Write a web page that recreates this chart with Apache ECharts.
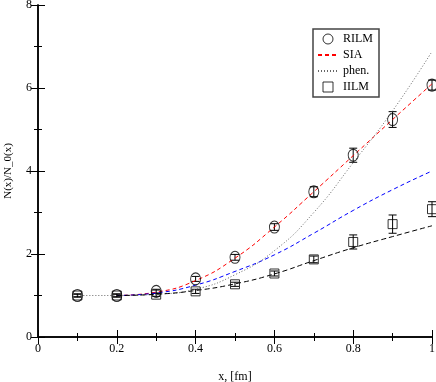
<!DOCTYPE html>
<html>
<head>
<meta charset="utf-8">
<script src="https://cdn.jsdelivr.net/npm/echarts@6/dist/echarts.min.js"></script>
<style>
  html, body { margin: 0; padding: 0; background: #fff; }
  #main { width: 436px; height: 382px; }
</style>
</head>
<body>
<div id="main"></div>
<script>
// points (x in fm)
var xPts = [0.1, 0.2, 0.3, 0.4, 0.5, 0.6, 0.7, 0.8, 0.9, 1.0];
var rilmY = [1.0, 1.0, 1.1, 1.40, 1.92, 2.65, 3.50, 4.38, 5.24, 6.07];
var rilmErr = [0.04, 0.04, 0.05, 0.06, 0.07, 0.08, 0.12, 0.17, 0.19, 0.12];
var iilmY = [1.0, 1.0, 1.02, 1.10, 1.27, 1.53, 1.87, 2.29, 2.72, 3.08];
var iilmErr = [0.03, 0.03, 0.04, 0.05, 0.05, 0.06, 0.08, 0.17, 0.22, 0.18];

// curves
var curveX = [0.2, 0.3, 0.4, 0.5, 0.6, 0.7, 0.8, 0.9, 1.0];
var siaY = [1.0, 1.08, 1.36, 1.90, 2.65, 3.50, 4.37, 5.24, 6.10];
var blueY = [1.0, 1.06, 1.25, 1.58, 1.98, 2.50, 3.05, 3.55, 4.0];
var iilmFitY = [1.0, 1.03, 1.12, 1.28, 1.52, 1.84, 2.15, 2.42, 2.68];
var phenX = [0.1, 0.2, 0.3, 0.4, 0.5, 0.6, 0.7, 0.8, 0.9, 1.0];
var phenY = [1.0, 1.0, 1.03, 1.15, 1.50, 2.08, 3.0, 4.2, 5.45, 6.88];

function pairs(xs, ys) {
  var out = [];
  for (var i = 0; i < xs.length; i++) out.push([xs[i], ys[i]]);
  return out;
}
function errData(xs, ys, es) {
  var out = [];
  for (var i = 0; i < xs.length; i++) out.push([xs[i], ys[i] - es[i], ys[i] + es[i]]);
  return out;
}
function renderErr(params, api) {
  var lo = api.coord([api.value(0), api.value(1)]);
  var hi = api.coord([api.value(0), api.value(2)]);
  var w = 4;
  var st = { stroke: '#000', lineWidth: 1 };
  return {
    type: 'group',
    children: [
      { type: 'line', shape: { x1: lo[0], y1: lo[1], x2: hi[0], y2: hi[1] }, style: st },
      { type: 'line', shape: { x1: lo[0] - w, y1: lo[1], x2: lo[0] + w, y2: lo[1] }, style: st },
      { type: 'line', shape: { x1: hi[0] - w, y1: hi[1], x2: hi[0] + w, y2: hi[1] }, style: st }
    ]
  };
}

var font = 'Liberation Serif';
var axisLineStyle = { color: '#000', width: 1.5 };
var noSym = { color: 'rgba(0,0,0,0)', borderWidth: 0 };
var hollow = { color: 'rgba(0,0,0,0)', borderColor: '#000', borderWidth: 1 };

var option = {
  animation: false,
  backgroundColor: '#fff',
  textStyle: { fontFamily: font },
  grid: { left: 38, right: 4, top: 5, bottom: 45, outerBoundsMode: 'none' },
  legend: {
    data: [
      { name: 'RILM', icon: 'circle', itemStyle: hollow },
      { name: 'SIA', itemStyle: noSym },
      { name: 'phen.', itemStyle: noSym },
      { name: 'IILM', icon: 'path://M0,0L10,0L10,10L0,10Z', itemStyle: hollow }
    ],
    orient: 'vertical',
    left: 313, top: 29,
    itemWidth: 20, itemHeight: 10, itemGap: 4,
    padding: [4, 6, 4, 4],
    borderColor: '#444', borderWidth: 1.5,
    textStyle: { fontFamily: font, fontSize: 12, color: '#000' }
  },
  xAxis: [{
    type: 'value', min: 0, max: 1, interval: 0.2,
    name: 'x, [fm]', nameLocation: 'middle', nameGap: 34,
    nameTextStyle: { fontFamily: font, fontSize: 12, color: '#000' },
    axisLine: { lineStyle: axisLineStyle },
    axisTick: { inside: true, length: 7, lineStyle: { color: '#000' } },
    minorTick: { show: true, splitNumber: 2, length: 4, lineStyle: { color: '#000' } },
    axisLabel: { fontFamily: font, fontSize: 12, color: '#000', margin: 6,
      formatter: function (v) { return v === 0 || v === 1 ? String(v) : v.toFixed(1); } },
    splitLine: { show: false }
  }, {
    type: 'value', min: 0, max: 1, interval: 0.2, position: 'top',
    axisLine: { lineStyle: axisLineStyle },
    axisTick: { inside: true, length: 7, lineStyle: { color: '#000' } },
    minorTick: { show: true, splitNumber: 2, length: 4, lineStyle: { color: '#000' } },
    axisLabel: { show: false }, splitLine: { show: false }
  }],
  yAxis: [{
    type: 'value', min: 0, max: 8, interval: 2,
    name: 'N(x)/N_0(x)', nameLocation: 'middle', nameGap: 24,
    nameTextStyle: { fontFamily: font, fontSize: 11, color: '#000' },
    axisLine: { lineStyle: axisLineStyle },
    axisTick: { inside: true, length: 7, lineStyle: { color: '#000' } },
    minorTick: { show: true, splitNumber: 2, length: 4, lineStyle: { color: '#000' } },
    axisLabel: { fontFamily: font, fontSize: 12, color: '#000', margin: 6 },
    splitLine: { show: false }
  }, {
    type: 'value', min: 0, max: 8, interval: 2, position: 'right',
    axisLine: { lineStyle: axisLineStyle },
    axisTick: { inside: true, length: 7, lineStyle: { color: '#000' } },
    minorTick: { show: true, splitNumber: 2, length: 4, lineStyle: { color: '#000' } },
    axisLabel: { show: false }, splitLine: { show: false }
  }],
  series: [
    { name: 'SIA', type: 'line', smooth: true, showSymbol: false, symbol: 'none',
      data: pairs(curveX, siaY), color: '#ff0000',
      lineStyle: { color: '#ff0000', width: 1, type: [4, 3] } },
    { name: 'blue', type: 'line', smooth: true, showSymbol: false, symbol: 'none',
      data: pairs(curveX, blueY), color: '#0000ff',
      lineStyle: { color: '#0000ff', width: 1, type: [4, 3] } },
    { name: 'phen.', type: 'line', smooth: true, showSymbol: false, symbol: 'none',
      data: pairs(phenX, phenY), color: '#666',
      lineStyle: { color: '#666', width: 1, type: [1, 2] } },
    { name: 'iilmfit', type: 'line', smooth: true, showSymbol: false, symbol: 'none',
      data: pairs(curveX, iilmFitY), color: '#000',
      lineStyle: { color: '#000', width: 1, type: [5, 3] } },
    { name: 'rilmErr', type: 'custom', renderItem: renderErr,
      data: errData(xPts, rilmY, rilmErr), z: 3 },
    { name: 'iilmErr', type: 'custom', renderItem: renderErr,
      data: errData(xPts, iilmY, iilmErr), z: 3 },
    { name: 'RILM', type: 'scatter', symbol: 'circle', symbolSize: [10, 12],
      data: pairs(xPts, rilmY), z: 4, itemStyle: hollow },
    { name: 'IILM', type: 'scatter', symbol: 'rect', symbolSize: 9,
      data: pairs(xPts, iilmY), z: 4, itemStyle: hollow }
  ]
};

var chart = echarts.init(document.getElementById('main'), null, { renderer: 'canvas' });
chart.setOption(option);
</script>
</body>
</html>
